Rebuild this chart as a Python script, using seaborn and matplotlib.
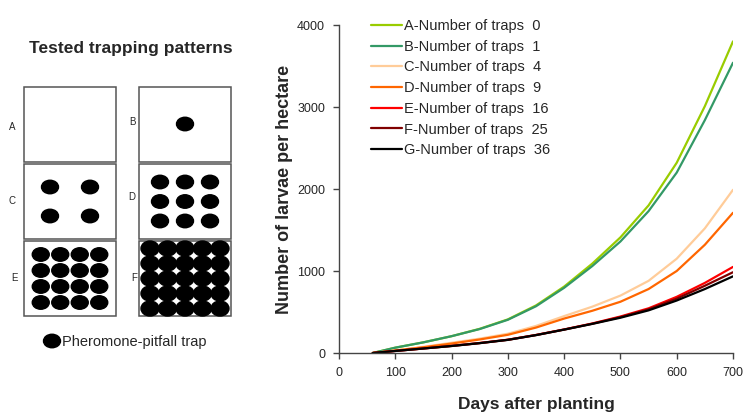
import pandas as pd
import matplotlib
matplotlib.use("Agg")
import matplotlib.pyplot as plt
from matplotlib.patches import Rectangle, Ellipse
import seaborn as sns

# larvae per hectare
days = [60, 100, 150, 200, 250, 300, 350, 400, 450, 500, 550, 600, 650, 700]
larvae_a = [0, 65, 130, 205, 295, 410, 580, 810, 1090, 1410, 1800, 2320, 3010, 3800]
larvae_b = [0, 65, 130, 205, 292, 405, 570, 795, 1060, 1360, 1730, 2200, 2840, 3540]
larvae_c = [0, 30, 75, 125, 175, 235, 330, 450, 565, 700, 880, 1150, 1520, 1990]
larvae_d = [0, 30, 70, 115, 165, 222, 310, 420, 515, 625, 780, 1000, 1320, 1710]
larvae_e = [0, 25, 55, 87, 122, 162, 220, 287, 360, 445, 545, 685, 855, 1050]
larvae_f = [0, 25, 55, 86, 121, 161, 219, 286, 357, 438, 533, 663, 820, 985]
larvae_g = [0, 25, 55, 85, 120, 160, 218, 285, 355, 430, 520, 640, 780, 935]

series_names = ["A-Number of traps  0", "B-Number of traps  1", "C-Number of traps  4",
                "D-Number of traps  9", "E-Number of traps  16", "F-Number of traps  25",
                "G-Number of traps  36"]
series_colors = ["#99CC00", "#339966", "#FFCC99", "#FF6600", "#FF0000", "#800000", "#000000"]

# trapping patterns: label and traps per side
pattern_labels = ["A", "B", "C", "D", "E", "F"]
pattern_grid = [0, 1, 2, 3, 4, 5]

sns.set_style("ticks")
plt.rcParams["font.family"] = ["Liberation Sans", "DejaVu Sans"]

fig = plt.figure(figsize=(7.45, 4.15), dpi=100)

# ---- left panel, drawn in pixel coordinates
axl = fig.add_axes([0, 0, 1, 1])
axl.set_xlim(0, 745)
axl.set_ylim(415, 0)
axl.axis("off")

axl.text(131, 49, "Tested trapping patterns", fontsize=12.5, fontweight="bold",
         ha="center", va="center")

box_x = [24, 139]
box_y = [87, 164, 241]
box_w, box_h = 92, 75
spacing_x = {1: 0, 2: 40, 3: 25, 4: 19.5, 5: 17.5}
spacing_y = {1: 0, 2: 29, 3: 19.5, 4: 16, 5: 15}
label_off = [(-12, 40), (-7, 35), (-12, 37), (-7, 33), (-10, 37), (-5, 37)]
for i, (lab, n) in enumerate(zip(pattern_labels, pattern_grid)):
    bx = box_x[i % 2]
    by = box_y[i // 2]
    axl.add_patch(Rectangle((bx, by), box_w, box_h, fill=False, ec="#555555", lw=1.1))
    axl.text(bx + label_off[i][0], by + label_off[i][1], lab, fontsize=7,
             ha="center", va="center")
    if n == 0:
        continue
    cx, cy = bx + box_w / 2, by + box_h / 2
    if n == 1:
        cy = by + 37
    for r in range(n):
        for c in range(n):
            ex = cx + (c - (n - 1) / 2) * spacing_x[n]
            ey = cy + (r - (n - 1) / 2) * spacing_y[n]
            w = 17 if n < 5 else 18
            h = 13.5 if n < 5 else 15
            axl.add_patch(Ellipse((ex, ey), w, h, color="black"))

axl.add_patch(Ellipse((52, 341), 17, 13.5, color="black"))
axl.text(62, 342, "Pheromone-pitfall trap", fontsize=10.5, ha="left", va="center")

# ---- right panel, line chart
ax = fig.add_axes([339 / 745, 62 / 415, 394 / 745, 328 / 415])
all_series = [larvae_a, larvae_b, larvae_c, larvae_d, larvae_e, larvae_f, larvae_g]
rows = []
for name, vals in zip(series_names, all_series):
    for d, v in zip(days, vals):
        rows.append({"day": d, "larvae": v, "series": name})
df = pd.DataFrame(rows)

sns.lineplot(data=df, x="day", y="larvae", hue="series", hue_order=series_names,
             palette=series_colors, linewidth=1.6, ax=ax)

ax.set_xlim(0, 700)
ax.set_ylim(0, 4000)
ax.set_xticks(range(0, 701, 100))
ax.set_yticks(range(0, 4001, 1000))
ax.tick_params(labelsize=9, length=4, width=1, color="#444444", pad=6)
for s in ["left", "bottom"]:
    ax.spines[s].set_color("#444444")
    ax.spines[s].set_linewidth(1)
sns.despine(ax=ax)

ax.set_xlabel("Days after planting", fontsize=12.5, fontweight="bold", labelpad=13)
ax.set_ylabel("Number of larvae per hectare", fontsize=13, fontweight="bold", labelpad=3)

handles, labels = ax.get_legend_handles_labels()
ax.legend(handles, labels, loc="upper left", bbox_to_anchor=(371 / 745, 1 - 19 / 415),
          bbox_transform=fig.transFigure, frameon=False, fontsize=10.5,
          handlelength=2.1, handletextpad=0.15, labelspacing=0.46,
          borderpad=0, borderaxespad=0)

fig.savefig("out.png", dpi=100)
